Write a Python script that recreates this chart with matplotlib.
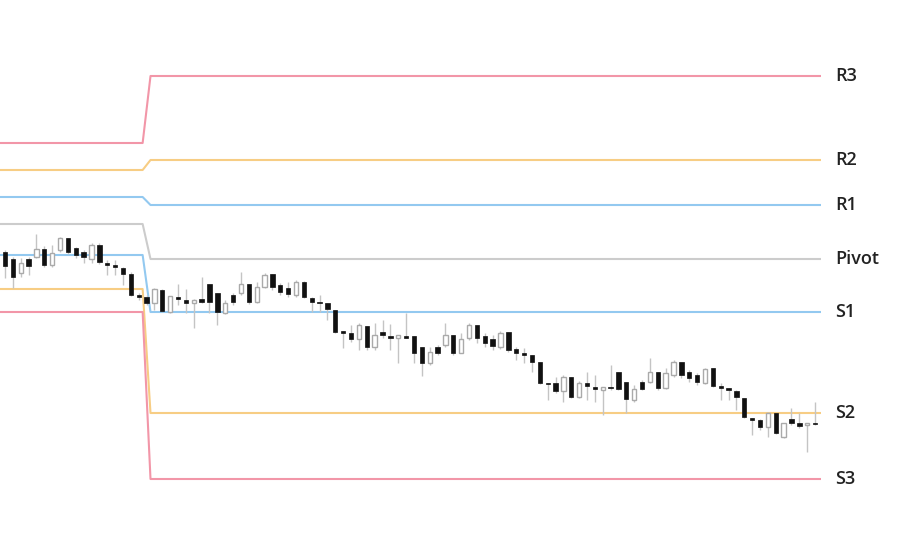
import numpy as np
import matplotlib
matplotlib.use("Agg")
from matplotlib import pyplot as plt

# Candles (price in points), oldest first
opens = [298, 291, 277, 291, 293, 301, 285, 300, 312, 302, 298, 291, 305, 287, 285, 282, 276, 255,
         253, 247, 260, 238, 253, 250, 247, 251, 266, 257, 237, 255, 257, 266, 248, 263, 276, 265,
         262, 255, 268, 252, 248, 247, 240, 219, 217, 211, 224, 203, 218, 214, 212, 214, 214, 203,
         187, 203, 205, 215, 197, 212, 225, 214, 211, 203, 218, 201, 197, 195, 188, 167, 167, 159,
         173, 153, 167, 163, 160, 163, 178, 168, 150, 168, 168, 178, 162, 175, 188, 178, 175, 167,
         182, 164, 162, 159, 152, 132, 130, 123, 137, 113, 131, 127, 125, 127]
highs = [300, 293, 292, 293, 316, 304, 305, 313, 312, 303, 300, 307, 307, 290, 290, 283, 278, 257,
         255, 262, 261, 254, 266, 261, 251, 273, 266, 257, 250, 257, 278, 266, 268, 277, 276, 267,
         268, 270, 269, 253, 255, 247, 240, 219, 225, 227, 224, 227, 230, 226, 215, 237, 214, 203,
         203, 205, 227, 215, 217, 227, 225, 217, 215, 219, 218, 203, 202, 195, 188, 167, 173, 175,
         173, 169, 178, 175, 163, 185, 178, 168, 165, 170, 192, 178, 182, 190, 188, 180, 177, 182,
         182, 167, 162, 160, 152, 132, 131, 138, 137, 127, 142, 137, 127, 148]
lows = [272, 262, 273, 275, 292, 283, 283, 298, 296, 292, 287, 287, 286, 275, 275, 265, 254, 250,
        245, 240, 238, 237, 245, 237, 222, 247, 237, 225, 236, 245, 255, 246, 247, 262, 260, 255,
        253, 253, 252, 238, 238, 230, 217, 202, 208, 200, 200, 200, 212, 200, 187, 212, 187, 174,
        185, 195, 203, 195, 197, 210, 207, 203, 200, 201, 198, 190, 187, 178, 166, 150, 157, 148,
        152, 152, 150, 148, 135, 160, 160, 137, 148, 160, 167, 160, 161, 173, 172, 168, 165, 166,
        163, 150, 150, 140, 132, 115, 120, 113, 116, 112, 125, 122, 98, 125]
closes = [284, 273, 287, 284, 301, 285, 297, 312, 298, 295, 293, 305, 288, 285, 283, 276, 255, 253,
          247, 261, 239, 254, 251, 247, 250, 248, 248, 238, 247, 248, 266, 248, 263, 275, 263, 258,
          256, 268, 253, 248, 247, 241, 218, 217, 211, 225, 203, 215, 215, 212, 215, 212, 197, 187,
          198, 197, 215, 197, 211, 225, 212, 207, 204, 217, 200, 197, 195, 188, 167, 166, 159, 173,
          153, 167, 164, 161, 163, 162, 161, 151, 161, 161, 178, 162, 177, 188, 175, 172, 168, 181,
          164, 162, 160, 153, 133, 130, 123, 137, 117, 127, 127, 124, 127, 126]

# Pivot levels: previous day / current day
level_names = ["R3", "R2", "R1", "Pivot", "S1", "S2", "S3"]
prev_levels = [407, 380, 353, 326, 295, 261, 238]
curr_levels = [474, 390, 345, 291, 238, 137, 71]
level_colors = ["#f296a8", "#f7cd84", "#93c9f0", "#cccccc", "#93c9f0", "#f7cd84", "#f296a8"]
day_start = 18  # first candle of current day

o = np.array(opens, float)
h = np.array(highs, float)
l = np.array(lows, float)
c = np.array(closes, float)
n = len(o)
x = np.arange(n)

fig = plt.figure(figsize=(9, 5.49), dpi=100)
ax = fig.add_axes([0, 0, 1, 1])

# pivot lines
lx = np.concatenate([[-0.7], x + 0.5])
lx[-1] = n - 0.25
for name, pv, cv, col in zip(level_names, prev_levels, curr_levels, level_colors):
    vals = np.where(x < day_start, pv, cv)
    ly = np.concatenate([[pv], vals])
    ax.plot(lx, ly, color=col, lw=1.5, zorder=1, solid_capstyle="butt")
    ax.text(n + 1.6, cv, name, ha="left", va="center", fontsize=13,
            fontweight="semibold", color="#222222", family=["Open Sans", "DejaVu Sans"])

# candles
up = c >= o
ax.vlines(x, l, h, color="#c4c4c4", lw=1.0, zorder=2)
bottom = np.minimum(o, c)
height = np.maximum(np.abs(c - o), 1.5)
ax.bar(x[~up], height[~up], bottom=bottom[~up], width=0.55,
       color="#111111", edgecolor="#111111", lw=0.5, zorder=3)
ax.bar(x[up], height[up], bottom=bottom[up], width=0.55,
       color="white", edgecolor="#aaaaaa", lw=1.0, zorder=3)

ax.set_xlim(-5 / 7.865, 895 / 7.865)
ax.set_ylim(1, 550)
ax.axis("off")

fig.savefig("out.png", dpi=100, facecolor="white")
plt.close(fig)
